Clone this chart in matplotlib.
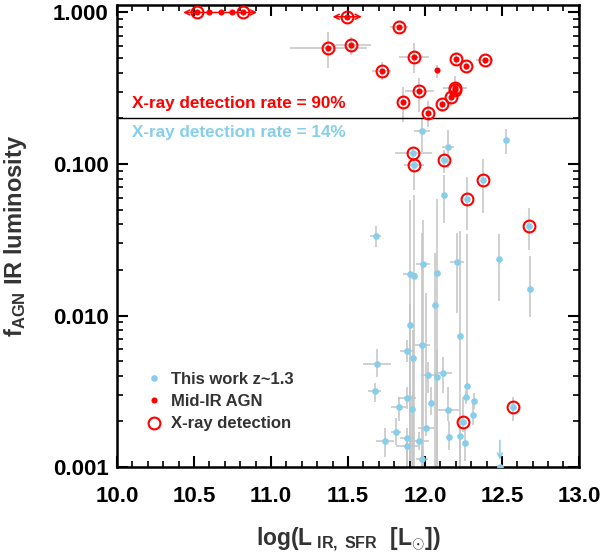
import matplotlib
matplotlib.use("Agg")
import matplotlib.pyplot as plt
from matplotlib.lines import Line2D
from matplotlib.ticker import LogLocator, FixedLocator, MultipleLocator, NullFormatter
import numpy as np

plt.rcParams["font.family"] = ["Liberation Sans", "DejaVu Sans"]
plt.rcParams["mathtext.fontset"] = "custom"
plt.rcParams["mathtext.rm"] = "Liberation Sans"
plt.rcParams["mathtext.bf"] = "Liberation Sans:bold"
plt.rcParams["mathtext.it"] = "Liberation Sans:italic"

BLUE = "#87CEEB"
RED = "#FF0000"
ERR = "#C4C4C4"

# "This work" sample: x, f_AGN, x half-error, f_AGN lower bound, f_AGN upper bound
blue_x = [11.98, 12.15, 12.526, 11.924, 11.929, 12.123, 12.377, 12.275, 12.673,
          12.125, 11.68, 12.483, 12.684, 11.99, 12.208, 11.903, 11.926, 12.078,
          12.063, 11.903, 12.227, 11.983, 11.885, 11.924, 11.69, 12.022, 12.08,
          12.119, 11.673, 12.275, 11.885, 12.268, 12.318, 12.037, 11.83, 11.918,
          12.153, 12.314, 12.249, 12.574, 12.006, 11.812, 11.742, 11.885, 11.963,
          12.158, 12.227, 11.885, 12.262, 11.983]
blue_y = [0.166, 0.130, 0.143, 0.118, 0.0985, 0.106, 0.0783, 0.059, 0.039,
          0.0624, 0.0337, 0.0235, 0.0149, 0.0219, 0.0225, 0.0187, 0.0183, 0.019,
          0.0117, 0.00869, 0.00736, 0.00638, 0.0058, 0.00521, 0.00481, 0.00403, 0.00394,
          0.0042, 0.00316, 0.00341, 0.00285, 0.00288, 0.00271, 0.00266, 0.00248, 0.0024,
          0.00238, 0.0022, 0.00199, 0.00249, 0.0018, 0.00171, 0.00148, 0.00155, 0.00148,
          0.00159, 0.0016, 0.00138, 0.00144, 0.00113]
blue_xerr = [0.05, 0.04, 0.0, 0.12, 0.065, 0.0, 0.0, 0.0, 0.0,
             0.0, 0.035, 0.0, 0.0, 0.045, 0.045, 0.045, 0.0, 0.0,
             0.0, 0.0, 0.0, 0.05, 0.045, 0.0, 0.09, 0.05, 0.0,
             0.06, 0.045, 0.0, 0.06, 0.0, 0.0, 0.0, 0.05, 0.0,
             0.07, 0.0, 0.0, 0.0, 0.05, 0.035, 0.06, 0.05, 0.065,
             0.0, 0.0, 0.07, 0.0, 0.04]
blue_ylo = [0.12, 0.094, 0.117, 0.11, 0.067, 0.087, 0.0475, 0.0366, 0.027,
            0.041, 0.0283, 0.0125, 0.0098, 0.0005, 0.0104, 0.0005, 0.0005, 0.0005,
            0.0005, 0.0005, 0.0005, 0.0005, 0.0049, 0.0005, 0.0039, 0.0031, 0.0005,
            0.0031, 0.0027, 0.0028, 0.0024, 0.0026, 0.0024, 0.0022, 0.0020, 0.0005,
            0.0020, 0.0019, 0.0017, 0.0020, 0.0016, 0.0014, 0.00116, 0.0005, 0.0013,
            0.0013, 0.0005, 0.0005, 0.0011, 0.0005]
blue_yhi = [0.20, 0.167, 0.17, 0.125, 0.106, 0.124, 0.108, 0.082, 0.051,
            0.085, 0.039, 0.0345, 0.0247, 0.043, 0.035, 0.058, 0.062, 0.059,
            0.026, 0.012, 0.036, 0.035, 0.0069, 0.008, 0.006, 0.0049, 0.006,
            0.0053, 0.0036, 0.0345, 0.0034, 0.0032, 0.0031, 0.0034, 0.0029, 0.003,
            0.0034, 0.0027, 0.0029, 0.0029, 0.014, 0.0021, 0.0018, 0.0018, 0.0017,
            0.002, 0.002, 0.0016, 0.0018, 0.0013]
blue_xray = [3, 4, 5, 6, 7, 8, 38, 39]  # indices with X-ray detection

# upper limit in the blue sample
ulim_x = 12.487
ulim_y = 0.00150

# Mid-IR AGN
red_x = [10.52, 10.60, 10.675, 10.745, 10.82, 11.495, 11.83, 11.372, 11.517,
         11.929, 11.719, 12.08, 12.199, 12.266, 12.39, 11.963, 12.195, 12.195,
         12.167, 11.859, 12.108, 12.02]
red_y = [1.0, 1.0, 1.0, 1.0, 1.0, 0.937, 0.798, 0.581, 0.61,
         0.508, 0.413, 0.415, 0.495, 0.446, 0.483, 0.303, 0.316, 0.31,
         0.278, 0.258, 0.247, 0.216]
red_xerr = [0.0, 0.0, 0.0, 0.0, 0.0, 0.0, 0.06, 0.25, 0.13,
            0.095, 0.06, 0.0, 0.0, 0.0, 0.055, 0.095, 0.08, 0.0,
            0.0, 0.0, 0.0, 0.0]
red_ylo = [1.0, 1.0, 1.0, 1.0, 1.0, 0.937, 0.798, 0.43, 0.524,
           0.40, 0.36, 0.37, 0.46, 0.42, 0.46, 0.22, 0.28, 0.29,
           0.24, 0.19, 0.22, 0.176]
red_yhi = [1.0, 1.0, 1.0, 1.0, 1.0, 0.937, 0.798, 0.74, 0.692,
           0.63, 0.47, 0.45, 0.53, 0.47, 0.50, 0.37, 0.38, 0.33,
           0.31, 0.32, 0.27, 0.26]
red_xray = [0, 4, 5, 6, 7, 8, 9, 10, 12, 13, 14, 15, 16, 17, 18, 19, 20, 21]

# lower/upper limits in L_IR shown as double arrows
arrow_y = [1.0, 0.937]
arrow_x0 = [10.43, 11.40]
arrow_x1 = [10.91, 11.59]

split_y = 0.2

fig = plt.figure(figsize=(6.03, 5.56), dpi=100)
ax = fig.add_axes([0.194, 0.160, 0.766, 0.831])


def draw_errors(x, y, xerr, ylo, yhi):
    x = np.array(x)
    y = np.array(y)
    yerr = np.vstack([y - np.array(ylo), np.array(yhi) - y])
    ax.errorbar(x, y, xerr=xerr, yerr=yerr, fmt="none", ecolor=ERR,
                elinewidth=1.1, capsize=0, zorder=1)


draw_errors(blue_x, blue_y, blue_xerr, blue_ylo, blue_yhi)
draw_errors(red_x, red_y, red_xerr, red_ylo, red_yhi)

ax.plot(blue_x, blue_y, "o", color=BLUE, ms=4.8, mew=0, zorder=3)
ax.plot(red_x, red_y, "o", color=RED, ms=4.4, mew=0, zorder=3)

bx = [blue_x[i] for i in blue_xray]
by = [blue_y[i] for i in blue_xray]
rx = [red_x[i] for i in red_xray]
ry = [red_y[i] for i in red_xray]
ax.plot(bx + rx, by + ry, "o", mfc="none", mec=RED, ms=8.5, mew=1.5, zorder=4)

for yy, x0, x1 in zip(arrow_y, arrow_x0, arrow_x1):
    ax.annotate("", xy=(x0, yy), xytext=(x1, yy),
                arrowprops=dict(arrowstyle="<->", color=RED, lw=1.1,
                                shrinkA=0, shrinkB=0, mutation_scale=9), zorder=2)

ax.annotate("", xy=(ulim_x, 0.00112), xytext=(ulim_x, ulim_y),
            arrowprops=dict(arrowstyle="->", color=BLUE, lw=1.1,
                            shrinkA=0, shrinkB=0, mutation_scale=9))
ax.plot([ulim_x], [0.001], "o", color=BLUE, ms=4.8, mew=0, zorder=3)

ax.axhline(split_y, color="black", lw=1.0, zorder=2)
ax.text(10.10, 0.2344, "X-ray detection rate = 90%", color=RED,
        fontsize=12.3, fontweight="bold", va="baseline")
ax.text(10.10, 0.151, "X-ray detection rate = 14%", color=BLUE,
        fontsize=12.3, fontweight="bold", va="baseline")

ax.set_xlim(10.0, 13.0)
ax.set_yscale("log")
ax.set_ylim(0.001, 1.12)

ax.xaxis.set_major_locator(MultipleLocator(0.5))
ax.xaxis.set_minor_locator(MultipleLocator(0.1))
ax.yaxis.set_major_locator(FixedLocator([0.001, 0.01, 0.1, 1.0]))
ax.yaxis.set_minor_locator(LogLocator(base=10, subs=np.arange(2, 10)))
ax.yaxis.set_minor_formatter(NullFormatter())
ax.set_yticklabels(["0.001", "0.010", "0.100", "1.000"])
ax.set_xticks([10.0, 10.5, 11.0, 11.5, 12.0, 12.5, 13.0])
ax.set_xticklabels(["10.0", "10.5", "11.0", "11.5", "12.0", "12.5", "13.0"])

ax.tick_params(which="both", direction="in", top=True, right=True)
ax.tick_params(which="major", length=8, width=1.5, labelsize=16)
ax.tick_params(axis="x", which="major", pad=14)
ax.tick_params(axis="y", which="major", pad=6)
ax.tick_params(which="minor", length=4, width=1.2)
for lab in ax.get_xticklabels() + ax.get_yticklabels():
    lab.set_fontweight("bold")
for sp in ax.spines.values():
    sp.set_linewidth(1.8)

ax.set_xlabel(r"log(L$_{\ \mathbf{IR,\ SFR}}$  [L$_{\odot}$])", fontsize=16.5,
              fontweight="bold", color="#333333")
ax.set_ylabel(r"f$_{\mathbf{AGN}}$ IR luminosity", fontsize=17,
              fontweight="bold", color="#333333")
ax.xaxis.set_label_coords(0.5, -0.127)
ax.yaxis.set_label_coords(-0.19, 0.5)

handles = [
    Line2D([], [], marker="o", ls="none", color=BLUE, ms=4.8, mew=0),
    Line2D([], [], marker="o", ls="none", color=RED, ms=4.4, mew=0),
    Line2D([], [], marker="o", ls="none", mfc="none", mec=RED, ms=8.5, mew=1.5),
]
leg = ax.legend(handles, ["This work z~1.3", "Mid-IR AGN", "X-ray detection"],
                loc="lower left", bbox_to_anchor=(0.062, 0.077), frameon=False,
                prop=dict(weight="bold", size=12), labelcolor="#333333",
                handlelength=1.0, handletextpad=0.55, labelspacing=0.44,
                borderpad=0, borderaxespad=0)

fig.savefig("out.png", dpi=100)
